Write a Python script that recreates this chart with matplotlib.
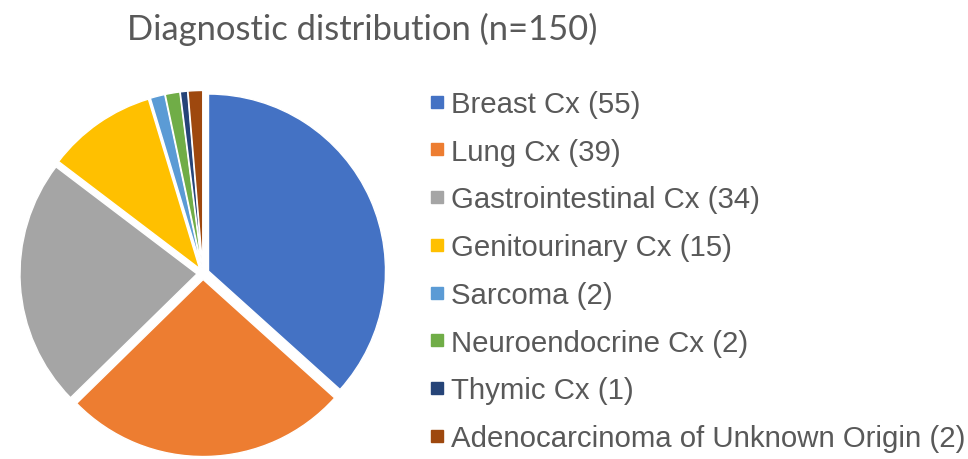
import matplotlib
matplotlib.use("Agg")
import matplotlib.pyplot as plt
from matplotlib.lines import Line2D

categories = ["Breast Cx", "Lung Cx", "Gastrointestinal Cx", "Genitourinary Cx",
              "Sarcoma", "Neuroendocrine Cx", "Thymic Cx",
              "Adenocarcinoma of Unknown Origin"]
counts = [55, 39, 34, 15, 2, 2, 1, 2]
colors = ["#4472C4", "#ED7D31", "#A5A5A5", "#FFC000",
          "#5B9BD5", "#70AD47", "#264478", "#9E480E"]
title = "Diagnostic distribution (n=150)"

W, H = 968, 460
fig = plt.figure(figsize=(W / 100, H / 100), dpi=100)

# pie axes
R = 177.0
cx, cy = 203.0, 274.5
half = 1.2 * R
ax = fig.add_axes([(cx - half) / W, 1 - (cy + half) / H, 2 * half / W, 2 * half / H])
ax.pie(counts, colors=colors, startangle=90, counterclock=False,
       explode=[0.034] * len(counts),
       wedgeprops=dict(edgecolor="white", linewidth=1.0))
ax.set_xlim(-1.2, 1.2)
ax.set_ylim(-1.2, 1.2)
ax.set_aspect("equal")
ax.axis("off")

text_color = "#595959"
fig.text(362 / W, 1 - 29 / H, title, ha="center", va="center",
         fontsize=24.8, color=text_color, family="Lato")

handles = [Line2D([], [], marker="s", linestyle="none", markersize=8,
                  markerfacecolor=c, markeredgecolor=c) for c in colors]
labels = [f"{c} ({n})" for c, n in zip(categories, counts)]
leg = fig.legend(handles, labels, loc="upper left",
                 bbox_to_anchor=(429 / W, 1 - 91 / H),
                 frameon=False, borderpad=0, borderaxespad=0,
                 handlelength=0.55, handletextpad=0.2, labelspacing=0.67,
                 prop=dict(family="Liberation Sans", size=21.2))
for t in leg.get_texts():
    t.set_color(text_color)

fig.savefig("out.png", dpi=100)
